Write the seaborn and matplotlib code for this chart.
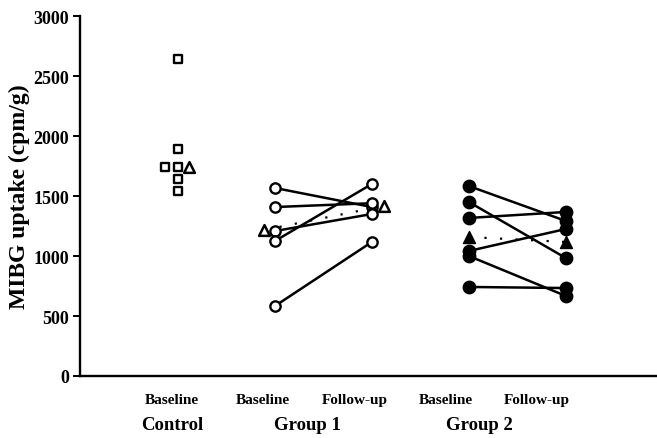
import matplotlib
matplotlib.use("Agg")
import matplotlib.pyplot as plt
import seaborn as sns
import pandas as pd
import numpy as np

# ---- data ----
control_values = [2642, 1892, 1742, 1742, 1642, 1542]
control_mean = 1742

g1_baseline = [1567, 1408, 1208, 1125, 583]
g1_followup = [1408, 1440, 1350, 1600, 1117]
g1_mean = [1217, 1417]

g2_baseline = [1583, 1450, 1317, 1042, 1000, 742]
g2_followup = [1292, 983, 1367, 1225, 667, 733]
g2_mean = [1158, 1117]

tick_labels = ["Baseline", "Baseline", "Follow-up", "Baseline", "Follow-up"]
group_labels = ["Control", "Group 1", "Group 2"]
y_ticks = [0, 500, 1000, 1500, 2000, 2500, 3000]

# ---- layout (positions / offsets) ----
col_pos = [0, 1, 2, 3, 4]
control_jitter = [0, 0, -0.13, 0, 0, 0]
ctrl_mean_dx = 0.11
g1_mean_dx = [-0.11, 0.12]
label_pos = [i * 0.94 - 0.06 for i in col_pos]
group_label_pos = [-0.06, 1.34, 3.11]

sns.set_theme(style="white")
plt.rcParams['font.family'] = ['Liberation Serif', 'DejaVu Serif']
plt.rcParams['font.weight'] = 'bold'
plt.rcParams['text.color'] = 'black'
plt.rcParams['axes.labelcolor'] = 'black'
plt.rcParams['xtick.color'] = 'black'
plt.rcParams['ytick.color'] = 'black'

fig = plt.figure(figsize=(6.57, 4.39), dpi=100)
W, H = 657, 439
ax = fig.add_axes([80 / W, (H - 377) / H, (W - 80) / W, (377 - 17) / H])

# paired lines
rows = []
for i, (b, f) in enumerate(zip(g1_baseline, g1_followup)):
    rows.append(dict(patient=f"g1_{i}", x=col_pos[1], value=b))
    rows.append(dict(patient=f"g1_{i}", x=col_pos[2], value=f))
for i, (b, f) in enumerate(zip(g2_baseline, g2_followup)):
    rows.append(dict(patient=f"g2_{i}", x=col_pos[3], value=b))
    rows.append(dict(patient=f"g2_{i}", x=col_pos[4], value=f))
pairs = pd.DataFrame(rows)
sns.lineplot(data=pairs, x="x", y="value", units="patient", estimator=None,
             color="black", lw=1.8, ax=ax, legend=False, zorder=2)

# mean dotted lines
mean_df = pd.DataFrame(dict(
    line=["g1", "g1", "g2", "g2"],
    x=[col_pos[1] + g1_mean_dx[0], col_pos[2] + g1_mean_dx[1], col_pos[3], col_pos[4]],
    value=g1_mean + g2_mean))
for name, sub in mean_df.groupby("line"):
    ax.plot(sub["x"], sub["value"], color="black", lw=1.6,
            linestyle=(0, (1, 6)), zorder=2)

# control squares
ctrl = pd.DataFrame(dict(x=[col_pos[0] + j for j in control_jitter], value=control_values))
sns.scatterplot(data=ctrl, x="x", y="value", marker="s", s=34, facecolor="white",
                edgecolor="black", linewidth=1.7, ax=ax, zorder=3)
ax.scatter([col_pos[0] + ctrl_mean_dx], [control_mean], marker="^", s=60,
           facecolor="white", edgecolor="black", linewidth=1.8, zorder=3)

# group 1 open circles
g1 = pd.DataFrame(dict(x=[col_pos[1]] * len(g1_baseline) + [col_pos[2]] * len(g1_followup),
                       value=g1_baseline + g1_followup))
sns.scatterplot(data=g1, x="x", y="value", marker="o", s=55, facecolor="white",
                edgecolor="black", linewidth=1.7, ax=ax, zorder=3)
ax.scatter([col_pos[1] + g1_mean_dx[0], col_pos[2] + g1_mean_dx[1]], g1_mean, marker="^",
           s=60, facecolor="white", edgecolor="black", linewidth=1.8, zorder=3)

# group 2 filled circles
g2 = pd.DataFrame(dict(x=[col_pos[3]] * len(g2_baseline) + [col_pos[4]] * len(g2_followup),
                       value=g2_baseline + g2_followup))
sns.scatterplot(data=g2, x="x", y="value", marker="o", s=80, facecolor="black",
                edgecolor="black", linewidth=1, ax=ax, zorder=3)
ax.scatter([col_pos[3], col_pos[4]], g2_mean, marker="^", s=75,
           facecolor="black", edgecolor="black", linewidth=1, zorder=3)

# axes styling
ax.set_xlim(-1.01, 4.94)
ax.set_ylim(0, 3000)
ax.set_yticks(y_ticks)
ax.set_yticklabels([str(v) for v in y_ticks], fontsize=13, fontweight="bold")
ax.set_xticks(label_pos)
ax.set_xticklabels(tick_labels, fontsize=11, fontweight="bold")
ax.tick_params(axis="x", length=0, pad=12)
ax.tick_params(axis="y", direction="out", length=5, width=1.4, left=True, pad=3)
ax.set_xlabel("")
ax.set_ylabel("MIBG uptake (cpm/g)", fontsize=17, fontweight="bold", labelpad=2)
for s in ["top", "right"]:
    ax.spines[s].set_visible(False)
for s in ["left", "bottom"]:
    ax.spines[s].set_color("black")
    ax.spines[s].set_linewidth(1.7)

for name, xp in zip(group_labels, group_label_pos):
    ax.text(xp, -0.135, name, transform=ax.get_xaxis_transform(), ha="center",
            va="center", fontsize=13.5, fontweight="bold")

fig.savefig("out.png", dpi=100)
